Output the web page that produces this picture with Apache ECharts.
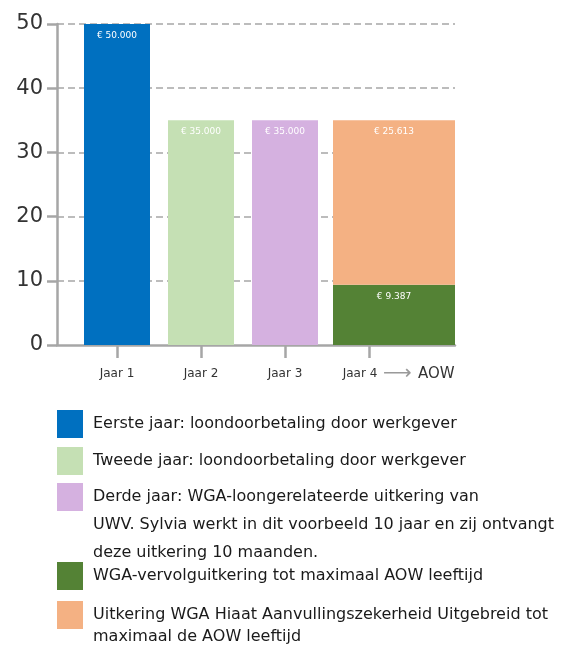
<!DOCTYPE html>
<html>
<head>
<meta charset="utf-8">
<script src="https://cdn.jsdelivr.net/npm/echarts@6/dist/echarts.min.js"></script>
<style>
  html, body { margin: 0; background: #fff; }
  #chart { width: 576px; height: 648px; }
</style>
</head>
<body>
<div id="chart"></div>
<script>
// categorieën op de x-as
const categories = ['Jaar 1', 'Jaar 2', 'Jaar 3', 'Jaar 4'];
// bedragen in duizenden euro's, per legenda-onderdeel
const eersteJaar = [50, '-', '-', '-'];
const tweedeJaar = ['-', 35, '-', '-'];
const derdeJaar = ['-', '-', 35, '-'];
// jaar 4 tot AOW (brede gestapelde balk)
const vervolgUitkering = [9.387];
const hiaatUitkering = [25.613];
// y-as schaal
const yTicks = [0, 10, 20, 30, 40, 50];
// legenda teksten
const legendLabels = [
  'Eerste jaar: loondoorbetaling door werkgever',
  'Tweede jaar: loondoorbetaling door werkgever',
  'Derde jaar: WGA-loongerelateerde uitkering van\nUWV. Sylvia werkt in dit voorbeeld 10 jaar en zij ontvangt\ndeze uitkering 10 maanden.',
  'WGA-vervolguitkering tot maximaal AOW leeftijd',
  'Uitkering WGA Hiaat Aanvullingszekerheid Uitgebreid tot\nmaximaal de AOW leeftijd',
];
const colors = ['#0070C0', '#C5E0B4', '#D5B1E0', '#548235', '#F4B183'];

const axisGray = '#a6a6a6';
const font = 'DejaVu Sans';

// € 25.613 notatie
const euro = (v) => '€ ' + String(Math.round(v * 1000)).replace(/\B(?=(\d{3})+(?!\d))/g, '.');

const barLabel = {
  show: true,
  position: 'insideTop',
  distance: 7,
  color: '#fff',
  fontSize: 9,
  fontFamily: font,
  formatter: (p) => euro(p.value),
};

const makeBar = (idx, data, stack, axis, width) => ({
  name: legendLabels[idx],
  type: 'bar',
  xAxisIndex: axis,
  yAxisIndex: axis,
  stack: stack,
  barWidth: width,
  data: data,
  itemStyle: { color: colors[idx] },
  label: barLabel,
})

// losse legenda per item; lege regels ervoor zodat de eerste regel naast het blokje staat
const makeLegend = (idx, top, lineHeight) => {
  const lines = legendLabels[idx].split('\n').length
  return {
    data: [{ name: legendLabels[idx], icon: 'rect' }],
    left: 57,
    top: top,
    padding: 0,
    itemWidth: 26,
    itemHeight: 28,
    selectedMode: false,
    formatter: (name) => '\n'.repeat(lines - 1) + name,
    textStyle: {
      fontSize: 16,
      color: '#1a1a1a',
      fontFamily: font,
      lineHeight: lineHeight,
      padding: [0, 0, 0, 5],
    },
  }
}

const hiddenValueY = (grid) => ({
  gridIndex: grid,
  type: 'value',
  min: yTicks[0],
  max: yTicks[yTicks.length - 1],
  show: false,
})

const chart = echarts.init(document.getElementById('chart'))

chart.setOption({
  backgroundColor: '#fff',
  animation: false,
  grid: [
    // assen en hulplijnen
    { left: 57, right: 121, top: 24, bottom: 303, outerBoundsMode: 'none' },
    // jaar 1 t/m 4 (tickjes en labels)
    { left: 75, right: 165, top: 24, bottom: 303, outerBoundsMode: 'none' },
    // brede balk jaar 4
    { left: 333, right: 121, top: 24, bottom: 303, outerBoundsMode: 'none' },
  ],
  xAxis: [
    {
      gridIndex: 0,
      type: 'value',
      min: 0,
      max: 1,
      axisLine: { show: true, lineStyle: { color: axisGray, width: 2.5 } },
      axisTick: { show: false },
      axisLabel: { show: false },
      splitLine: { show: false },
    },
    {
      gridIndex: 1,
      type: 'category',
      data: categories,
      axisLine: { show: false },
      axisTick: {
        show: true,
        alignWithLabel: true,
        length: 13,
        lineStyle: { color: axisGray, width: 2.5 },
      },
      axisLabel: {
        color: '#333',
        fontSize: 12,
        lineHeight: 14,
        fontFamily: font,
        margin: 22,
        interval: 0,
        formatter: (v, i) => (i === categories.length - 1 ? '{pad| }' + v + '{arr|⟶}{aow|AOW}' : v),
        rich: {
          pad: { width: 60, lineHeight: 14 },
          arr: { width: 40, align: 'center', fontSize: 20, lineHeight: 14, color: '#9a9a9a', fontFamily: font },
          aow: { width: 38, align: 'left', fontSize: 15, lineHeight: 14, color: '#333', fontFamily: font },
        },
      },
    },
    {
      gridIndex: 2,
      type: 'category',
      data: [categories[3]],
      show: false,
    },
  ],
  yAxis: [
    {
      gridIndex: 0,
      type: 'value',
      min: yTicks[0],
      max: yTicks[yTicks.length - 1],
      interval: yTicks[1] - yTicks[0],
      axisLine: { show: true, lineStyle: { color: axisGray, width: 2.5 } },
      axisTick: { show: true, length: 10, lineStyle: { color: axisGray, width: 2.5 } },
      axisLabel: { color: '#333', fontSize: 21, fontFamily: font, margin: 14 },
      splitLine: {
        show: true,
        showMinLine: false,
        lineStyle: { color: axisGray, width: 1.5, type: [7, 4] },
      },
    },
    hiddenValueY(1),
    hiddenValueY(2),
  ],
  legend: [
    makeLegend(0, 410, 20),
    makeLegend(1, 447, 20),
    makeLegend(2, 427, 28),
    makeLegend(3, 562, 20),
    makeLegend(4, 582, 22),
  ],
  series: [
    makeBar(0, eersteJaar, 'a', 1, 66),
    makeBar(1, tweedeJaar, 'a', 1, 66),
    makeBar(2, derdeJaar, 'a', 1, 66),
    makeBar(3, vervolgUitkering, 'b', 2, '100%'),
    makeBar(4, hiaatUitkering, 'b', 2, '100%'),
  ],
})

window.addEventListener('resize', () => chart.resize())
</script>
</body>
</html>
